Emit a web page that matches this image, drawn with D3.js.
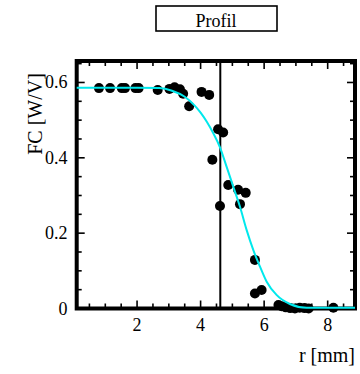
<!DOCTYPE html>
<html>
<head>
<meta charset="utf-8">
<script src="https://cdn.jsdelivr.net/npm/d3@7"></script>
<style>
html,body{margin:0;padding:0;background:#fff;}
svg{display:block;}
text{font-family:"Liberation Serif","Times New Roman",serif;fill:#000;}
</style>
</head>
<body>
<svg id="chart" width="360" height="374"></svg>
<script>
// ---- data ----
const pointX = [0.80,1.15,1.52,1.62,1.95,2.05,2.65,3.02,3.18,3.35,3.45,3.64,4.03,4.27,
  4.55,4.71,4.37,4.87,5.18,5.42,4.61,5.24,5.71,5.71,5.92,
  6.45,6.55,6.68,6.82,6.97,7.12,7.27,7.40,8.18];
const pointY = [0.585,0.585,0.585,0.585,0.585,0.585,0.580,0.583,0.587,0.582,0.570,0.537,0.575,0.567,
  0.476,0.467,0.395,0.328,0.315,0.307,0.272,0.277,0.129,0.040,0.049,
  0.009,0.006,0.003,0.001,0.000,0.002,0.001,0.000,0.002];
const fitX = [0.1,1.0,2.0,2.7,3.1,3.5,3.8,4.0,4.2,4.4,4.61,4.82,5.03,5.24,5.45,5.66,5.87,6.08,6.39,6.81,7.34,8.0,8.86];
const fitY = [0.586,0.586,0.586,0.585,0.578,0.562,0.540,0.520,0.495,0.465,0.428,0.376,0.323,0.270,0.208,0.155,0.111,0.071,0.036,0.012,0.002,0.002,0.002];
const markerX = 4.62;
const xMajor = [2,4,6,8];
const xMinor = [0.5,1,1.5,2.5,3,3.5,4.5,5,5.5,6.5,7,7.5,8.5];
const yMajor = [0,0.2,0.4,0.6];
const yMajorLabels = ["0","0.2","0.4","0.6"];
const yMinor = [0.05,0.1,0.15,0.25,0.3,0.35,0.45,0.5,0.55,0.65];
const title = "Profil";
const xLabel = "r [mm]";
const yLabel = "FC [W/V]";

// ---- scales ----
const svg = d3.select("#chart");
const x = d3.scaleLinear().domain([0.1, 8.86]).range([76.7, 355]);
const y = d3.scaleLinear().domain([0, 0.657]).range([308.5, 61]);
const [x0, x1] = x.range();
const [y0, y1] = y.range();

// title box
svg.append("rect").attr("x", 156).attr("y", 6).attr("width", 121).attr("height", 25)
  .attr("fill", "none").attr("stroke", "#000").attr("stroke-width", 1.6);
svg.append("text").attr("x", 216).attr("y", 26.5).attr("text-anchor", "middle")
  .attr("font-size", 18).text(title);

// ticks (inward, all four sides)
const tk = svg.append("g").attr("stroke", "#000").attr("stroke-width", 1.6);
function xTicks(vals, len) {
  vals.forEach(v => {
    tk.append("line").attr("x1", x(v)).attr("x2", x(v)).attr("y1", y0).attr("y2", y0 - len);
    tk.append("line").attr("x1", x(v)).attr("x2", x(v)).attr("y1", y1).attr("y2", y1 + len);
  });
}
function yTicks(vals, len) {
  vals.forEach(v => {
    tk.append("line").attr("y1", y(v)).attr("y2", y(v)).attr("x1", x0).attr("x2", x0 + len);
    tk.append("line").attr("y1", y(v)).attr("y2", y(v)).attr("x1", x1).attr("x2", x1 - len);
  });
}
xTicks(xMajor, 8); xTicks(xMinor, 5);
yTicks(yMajor, 8); yTicks(yMinor, 5);

// frame
svg.append("rect").attr("x", x0).attr("y", y1).attr("width", x1 - x0).attr("height", y0 - y1)
  .attr("fill", "none").attr("stroke", "#000").attr("stroke-width", 4);

// tick labels
svg.append("g").selectAll("text").data(xMajor).join("text")
  .attr("x", d => x(d)).attr("y", 330.5).attr("text-anchor", "middle")
  .attr("font-size", 18).text(d => d);
svg.append("g").selectAll("text").data(yMajor).join("text")
  .attr("x", 67.5).attr("y", d => y(d) + 6).attr("text-anchor", "end")
  .attr("font-size", 18).text((d, i) => yMajorLabels[i]);

// axis labels
svg.append("text").attr("x", 355).attr("y", 362).attr("text-anchor", "end")
  .attr("font-size", 20).text(xLabel);
svg.append("text").attr("transform", "translate(42,114) rotate(-90)")
  .attr("text-anchor", "middle").attr("font-size", 20).text(yLabel);

// vertical marker line
svg.append("line").attr("x1", x(markerX)).attr("x2", x(markerX)).attr("y1", y1).attr("y2", y0)
  .attr("stroke", "#000").attr("stroke-width", 2);

// points
svg.append("g").selectAll("circle").data(pointX.map((v, i) => [v, pointY[i]])).join("circle")
  .attr("cx", d => x(d[0])).attr("cy", d => y(d[1])).attr("r", 5).attr("fill", "#000");

// fitted curve
const line = d3.line().x(d => x(d[0])).y(d => y(d[1])).curve(d3.curveMonotoneX);
svg.append("path").datum(fitX.map((v, i) => [v, fitY[i]]))
  .attr("d", line).attr("fill", "none").attr("stroke", "#00e8ec").attr("stroke-width", 2);
</script>
</body>
</html>
